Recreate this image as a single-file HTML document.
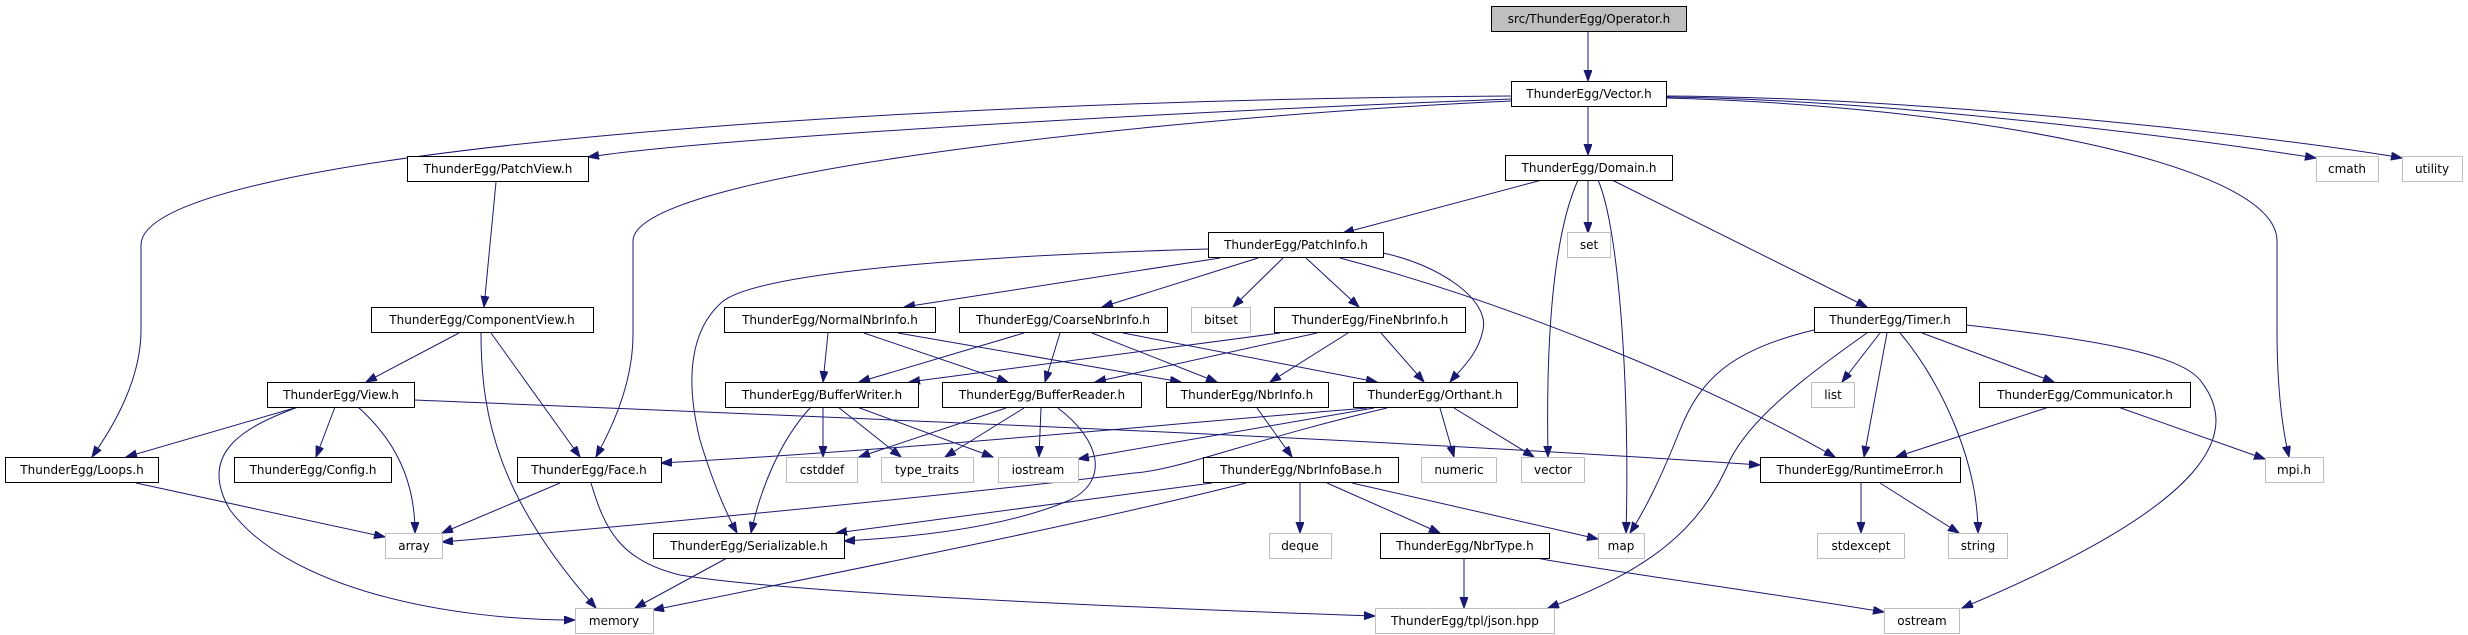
<!DOCTYPE html>
<html><head><meta charset="utf-8"><style>
html,body{margin:0;padding:0;background:#fff;}
svg{display:block;}
text{font-family:"DejaVu Sans","Liberation Sans",sans-serif;font-size:12px;fill:#000;}
.n{fill:#fff;stroke:#000;stroke-width:1;}
.g{fill:#fff;stroke:#bfbfbf;stroke-width:1;}
.o{fill:#bfbfbf;stroke:#000;stroke-width:1;}
path.e{fill:none;stroke:#191970;stroke-width:1;marker-end:url(#a);}
</style></head><body>
<svg width="2468" height="635" viewBox="0 0 2468 635" xmlns="http://www.w3.org/2000/svg">
<defs><marker id="a" markerUnits="userSpaceOnUse" markerWidth="12" markerHeight="10" refX="11" refY="4" orient="auto"><path d="M0,0 L11,4 L0,8 z" fill="#191970" stroke="#191970"/></marker></defs>
<g>
<path class="e" d="M1588,31 L1588,81"/>
<path class="e" d="M1588,106 L1588,155"/>
<path class="e" d="M1511,96 C900,100 141,150 141,245 L141,330 C141,390 100,445 92,457"/>
<path class="e" d="M1511,99 C1100,115 700,140 588,157"/>
<path class="e" d="M1511,101 C1200,115 633,170 633,241 L633,335 C633,390 605,440 596,457"/>
<path class="e" d="M1666,97 C1900,100 2200,140 2316,158"/>
<path class="e" d="M1666,96 C1950,98 2300,140 2402,158"/>
<path class="e" d="M1666,98 C1950,105 2277,160 2277,241 L2277,330 C2277,400 2285,440 2289,457"/>
<path class="e" d="M1542,180 L1343,233"/>
<path class="e" d="M1588,180 L1588,233"/>
<path class="e" d="M1578,180 C1560,220 1545,300 1548,457"/>
<path class="e" d="M1598,180 C1620,230 1630,400 1626,533"/>
<path class="e" d="M1612,180 L1867,307"/>
<path class="e" d="M1208,249 C1000,255 760,270 722,302 C690,330 685,380 700,440 C715,490 730,520 737,533"/>
<path class="e" d="M1220,258 L904,307"/>
<path class="e" d="M1258,258 L1102,307"/>
<path class="e" d="M1283,258 L1233,307"/>
<path class="e" d="M1306,258 L1359,307"/>
<path class="e" d="M1383,253 C1440,265 1490,300 1483,330 C1478,355 1460,370 1450,382"/>
<path class="e" d="M1340,258 C1500,300 1700,380 1835,457"/>
<path class="e" d="M828,333 L823,382"/>
<path class="e" d="M864,333 L1008,382"/>
<path class="e" d="M898,333 L1181,382"/>
<path class="e" d="M1024,333 L859,382"/>
<path class="e" d="M1060,333 L1045,382"/>
<path class="e" d="M1092,333 L1217,382"/>
<path class="e" d="M1123,333 L1377,382"/>
<path class="e" d="M1280,333 L909,382"/>
<path class="e" d="M1317,333 L1095,382"/>
<path class="e" d="M1348,333 L1270,382"/>
<path class="e" d="M1381,333 L1424,382"/>
<path class="e" d="M459,333 L366,382"/>
<path class="e" d="M481,333 C481,420 500,500 596,608"/>
<path class="e" d="M491,333 L580,457"/>
<path class="e" d="M496,182 L484,307"/>
<path class="e" d="M298,407 L126,457"/>
<path class="e" d="M335,407 L316,457"/>
<path class="e" d="M358,407 C395,440 415,480 415,533"/>
<path class="e" d="M298,407 C250,425 195,450 230,510 C290,590 450,620 575,620"/>
<path class="e" d="M414,400 C900,420 1400,440 1760,465"/>
<path class="e" d="M136,483 L385,537"/>
<path class="e" d="M560,483 L442,533"/>
<path class="e" d="M591,483 C605,530 620,560 680,575 C800,595 1200,610 1375,616"/>
<path class="e" d="M823,407 L823,457"/>
<path class="e" d="M838,407 L901,457"/>
<path class="e" d="M857,407 L993,457"/>
<path class="e" d="M811,407 C780,440 760,490 751,533"/>
<path class="e" d="M1006,408 L859,457"/>
<path class="e" d="M1024,408 L945,457"/>
<path class="e" d="M1041,408 L1039,457"/>
<path class="e" d="M1058,408 C1100,440 1110,480 1070,500 C1000,530 900,538 844,541"/>
<path class="e" d="M1367,408 C1100,430 900,450 661,463"/>
<path class="e" d="M1374,408 L1078,459"/>
<path class="e" d="M1387,408 C1250,440 1180,470 1134,473 C1000,490 700,520 442,542"/>
<path class="e" d="M1440,408 L1454,457"/>
<path class="e" d="M1454,408 L1534,457"/>
<path class="e" d="M1257,408 L1292,457"/>
<path class="e" d="M1212,483 L836,533"/>
<path class="e" d="M1246,483 C1100,520 900,560 653,610"/>
<path class="e" d="M1300,483 L1300,533"/>
<path class="e" d="M1327,483 L1440,533"/>
<path class="e" d="M1352,483 L1598,539"/>
<path class="e" d="M1464,558 L1464,608"/>
<path class="e" d="M1536,558 C1600,570 1750,590 1884,612"/>
<path class="e" d="M1814,330 C1730,350 1700,380 1680,430 C1660,480 1645,510 1630,533"/>
<path class="e" d="M1867,333 C1800,380 1750,420 1730,460 C1700,530 1650,570 1548,608"/>
<path class="e" d="M1880,333 L1842,382"/>
<path class="e" d="M1887,333 L1864,457"/>
<path class="e" d="M1900,333 C1940,380 1978,460 1978,533"/>
<path class="e" d="M1922,333 L2054,382"/>
<path class="e" d="M1966,325 C2100,340 2180,355 2200,380 C2240,430 2220,500 1962,608"/>
<path class="e" d="M2049,407 L1896,457"/>
<path class="e" d="M2118,407 L2265,459"/>
<path class="e" d="M1861,483 L1861,533"/>
<path class="e" d="M1880,483 L1959,533"/>
<path class="e" d="M727,558 L635,608"/>
</g>
<g>
<rect class="o" x="1491.5" y="6.5" width="195" height="25"/><text x="1589" y="23" text-anchor="middle">src/ThunderEgg/Operator.h</text>
<rect class="n" x="1511.5" y="81.5" width="155" height="25"/><text x="1589" y="98" text-anchor="middle">ThunderEgg/Vector.h</text>
<rect class="n" x="1505.5" y="155.5" width="167" height="25"/><text x="1589" y="172" text-anchor="middle">ThunderEgg/Domain.h</text>
<rect class="n" x="407.5" y="156.5" width="181" height="25"/><text x="498" y="173" text-anchor="middle">ThunderEgg/PatchView.h</text>
<rect class="n" x="1208.5" y="232.5" width="175" height="25"/><text x="1296" y="249" text-anchor="middle">ThunderEgg/PatchInfo.h</text>
<rect class="g" x="1567.5" y="232.5" width="43" height="25"/><text x="1589" y="249" text-anchor="middle">set</text>
<rect class="g" x="2316.5" y="156.5" width="62" height="25"/><text x="2347" y="173" text-anchor="middle">cmath</text>
<rect class="g" x="2402.5" y="156.5" width="60" height="25"/><text x="2432" y="173" text-anchor="middle">utility</text>
<rect class="n" x="371.5" y="307.5" width="222" height="25"/><text x="482" y="324" text-anchor="middle">ThunderEgg/ComponentView.h</text>
<rect class="n" x="724.5" y="307.5" width="211" height="25"/><text x="830" y="324" text-anchor="middle">ThunderEgg/NormalNbrInfo.h</text>
<rect class="n" x="959.5" y="307.5" width="208" height="25"/><text x="1063" y="324" text-anchor="middle">ThunderEgg/CoarseNbrInfo.h</text>
<rect class="g" x="1191.5" y="307.5" width="59" height="25"/><text x="1221" y="324" text-anchor="middle">bitset</text>
<rect class="n" x="1274.5" y="307.5" width="191" height="25"/><text x="1370" y="324" text-anchor="middle">ThunderEgg/FineNbrInfo.h</text>
<rect class="n" x="1814.5" y="307.5" width="152" height="25"/><text x="1890" y="324" text-anchor="middle">ThunderEgg/Timer.h</text>
<rect class="n" x="267.5" y="382.5" width="147" height="25"/><text x="341" y="399" text-anchor="middle">ThunderEgg/View.h</text>
<rect class="n" x="725.5" y="382.5" width="193" height="25"/><text x="822" y="399" text-anchor="middle">ThunderEgg/BufferWriter.h</text>
<rect class="n" x="942.5" y="382.5" width="199" height="25"/><text x="1042" y="399" text-anchor="middle">ThunderEgg/BufferReader.h</text>
<rect class="n" x="1166.5" y="382.5" width="162" height="25"/><text x="1247" y="399" text-anchor="middle">ThunderEgg/NbrInfo.h</text>
<rect class="n" x="1353.5" y="382.5" width="164" height="25"/><text x="1435" y="399" text-anchor="middle">ThunderEgg/Orthant.h</text>
<rect class="g" x="1811.5" y="382.5" width="43" height="25"/><text x="1833" y="399" text-anchor="middle">list</text>
<rect class="n" x="1979.5" y="382.5" width="211" height="25"/><text x="2085" y="399" text-anchor="middle">ThunderEgg/Communicator.h</text>
<rect class="n" x="5.5" y="457.5" width="153" height="25"/><text x="82" y="474" text-anchor="middle">ThunderEgg/Loops.h</text>
<rect class="n" x="234.5" y="457.5" width="157" height="25"/><text x="313" y="474" text-anchor="middle">ThunderEgg/Config.h</text>
<rect class="n" x="517.5" y="457.5" width="144" height="25"/><text x="589" y="474" text-anchor="middle">ThunderEgg/Face.h</text>
<rect class="g" x="786.5" y="457.5" width="71" height="25"/><text x="822" y="474" text-anchor="middle">cstddef</text>
<rect class="g" x="881.5" y="457.5" width="92" height="25"/><text x="927" y="474" text-anchor="middle">type_traits</text>
<rect class="g" x="998.5" y="457.5" width="80" height="25"/><text x="1038" y="474" text-anchor="middle">iostream</text>
<rect class="n" x="1203.5" y="457.5" width="195" height="25"/><text x="1301" y="474" text-anchor="middle">ThunderEgg/NbrInfoBase.h</text>
<rect class="g" x="1421.5" y="457.5" width="75" height="25"/><text x="1459" y="474" text-anchor="middle">numeric</text>
<rect class="g" x="1521.5" y="457.5" width="63" height="25"/><text x="1553" y="474" text-anchor="middle">vector</text>
<rect class="n" x="1760.5" y="457.5" width="200" height="25"/><text x="1860" y="474" text-anchor="middle">ThunderEgg/RuntimeError.h</text>
<rect class="g" x="2265.5" y="457.5" width="58" height="25"/><text x="2294" y="474" text-anchor="middle">mpi.h</text>
<rect class="g" x="385.5" y="533.5" width="57" height="25"/><text x="414" y="550" text-anchor="middle">array</text>
<rect class="n" x="653.5" y="533.5" width="191" height="25"/><text x="749" y="550" text-anchor="middle">ThunderEgg/Serializable.h</text>
<rect class="g" x="1269.5" y="533.5" width="62" height="25"/><text x="1300" y="550" text-anchor="middle">deque</text>
<rect class="n" x="1380.5" y="533.5" width="169" height="25"/><text x="1465" y="550" text-anchor="middle">ThunderEgg/NbrType.h</text>
<rect class="g" x="1598.5" y="533.5" width="46" height="25"/><text x="1621" y="550" text-anchor="middle">map</text>
<rect class="g" x="1817.5" y="533.5" width="87" height="25"/><text x="1861" y="550" text-anchor="middle">stdexcept</text>
<rect class="g" x="1948.5" y="533.5" width="59" height="25"/><text x="1978" y="550" text-anchor="middle">string</text>
<rect class="g" x="575.5" y="608.5" width="78" height="25"/><text x="614" y="625" text-anchor="middle">memory</text>
<rect class="g" x="1375.5" y="608.5" width="179" height="25"/><text x="1465" y="625" text-anchor="middle">ThunderEgg/tpl/json.hpp</text>
<rect class="g" x="1884.5" y="608.5" width="75" height="25"/><text x="1922" y="625" text-anchor="middle">ostream</text>
</g>
</svg>
</body></html>
